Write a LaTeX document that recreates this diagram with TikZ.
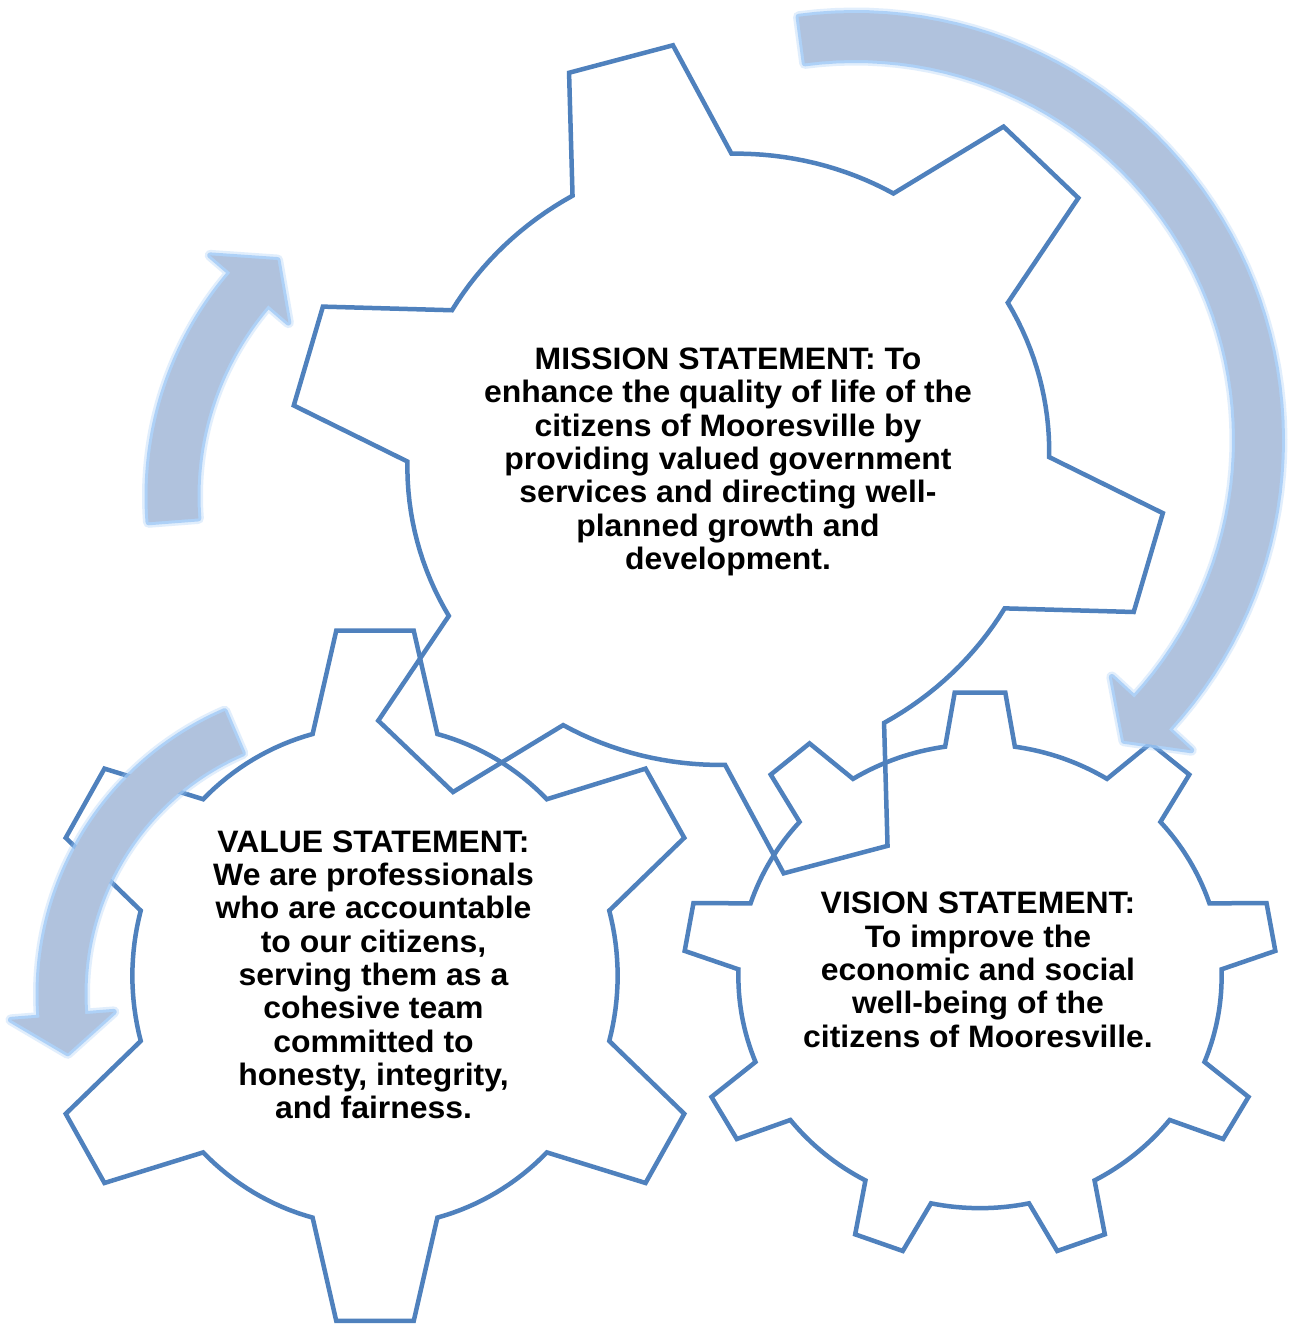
\documentclass[tikz,border=0pt]{standalone}
\usepackage{fontspec}
\setmainfont{Liberation Sans}[FakeStretch=1.03]
\definecolor{gearblue}{RGB}{79,129,189}
\definecolor{arrowfill}{RGB}{176,194,221}
\definecolor{arrowglow}{RGB}{158,200,246}

% gear frame: centre (\gcx,\gcy) and the images of the unit vectors at 0 and 90 degrees
\newcommand\gearframe[6]{\def\gcx{#1}\def\gcy{#2}\def\gax{#3}\def\gay{#4}\def\gbx{#5}\def\gby{#6}}

% #1 teeth, #2 root radius, #3 root half angle, #4 tip half angle, #5 angle of first tooth
\newcommand\drawgear[5]{%
  \pgfmathsetmacro\gstep{360/#1}%
  \pgfmathsetmacro\garc{\gstep-2*#3}%
  \draw[gearline] ({gx(#2,#5-#3)},{gy(#2,#5-#3)})
    \foreach \k in {1,...,#1}{
      -- ({gx(1,#5+(\k-1)*\gstep-#4)},{gy(1,#5+(\k-1)*\gstep-#4)})
      -- ({gx(1,#5+(\k-1)*\gstep+#4)},{gy(1,#5+(\k-1)*\gstep+#4)})
      \foreach \j in {0,...,16}{
        -- ({gx(#2,#5+(\k-1)*\gstep+#3+\j*\garc/16)},{gy(#2,#5+(\k-1)*\gstep+#3+\j*\garc/16)})
      }
    } -- cycle;
}

% circular arrow: #1,#2 centre, #3 mid radius, #4 half width, #5 half head span,
% #6 tail angle, #7 head base angle, #8 tip angle
\newcommand\ringarrow[8]{%
  \path[ringarrowstyle]
    plot[domain=#6:#7,samples=60,variable=\t]({#1+(#3+#4)*cos(\t)},{#2-(#3+#4)*sin(\t)})
    -- ({#1+(#3+#5)*cos(#7)},{#2-(#3+#5)*sin(#7)})
    -- ({#1+#3*cos(#8)},{#2-#3*sin(#8)})
    -- ({#1+(#3-#5)*cos(#7)},{#2-(#3-#5)*sin(#7)})
    -- plot[domain=#7:#6,samples=60,variable=\t]({#1+(#3-#4)*cos(\t)},{#2-(#3-#4)*sin(\t)})
    -- cycle;
}

\begin{document}
\begin{tikzpicture}[x=1pt,y=-1pt,
  declare function={
    gx(\gR,\gT)=\gcx+\gR*(\gax*cos(\gT)+\gbx*sin(\gT));
    gy(\gR,\gT)=\gcy+\gR*(\gay*cos(\gT)+\gby*sin(\gT));
  },
  gearline/.style={draw=gearblue,line width=4.5pt,line join=miter},
  ringarrowstyle/.style={fill=arrowfill,
    preaction={draw=arrowglow,draw opacity=0.3,line width=11pt,line join=round},
    preaction={draw=arrowglow,draw opacity=0.75,line width=6pt,line join=round}},
  statement/.style={align=center,inner sep=0pt,anchor=north,text=black,
    font=\fontsize{31}{33.3}\selectfont\bfseries}]

\useasboundingbox[fill=white] (0,0) rectangle (1289,1325);

% mission gear (six teeth, slightly skewed)
\gearframe{728.3}{459.3}{315}{-299.25}{-306.7}{-292.9}
\drawgear{6}{0.73}{14.8}{7}{0}

% value gear
\gearframe{375}{975.8}{337}{0}{0}{-347.5}
\drawgear{6}{0.72}{14.9}{6.6}{90}

% vision gear
\gearframe{980}{976.2}{296.5}{0}{0}{-284.6}
\drawgear{9}{0.815}{8.3}{4.9}{90}

% circular arrows
\ringarrow{855}{440}{403.5}{23.5}{54}{97.6}{-42.7}{-48.2}
\ringarrow{490}{496}{317.5}{25}{51.5}{184.4}{139.3}{132}
\ringarrow{346.5}{994}{285}{23}{51.5}{113.3}{184.4}{192}

% statements
\node[statement] (mission) at (728,347.8) {MISSION STATEMENT: To\\enhance the quality of life of the\\citizens of Mooresville by\\providing valued government\\services and directing well-\\planned growth and\\development.};
\node[statement] (value) at (373.5,830.5) {VALUE STATEMENT:\\We are professionals\\who are accountable\\to our citizens,\\serving them as a\\cohesive team\\committed to\\honesty, integrity,\\and fairness.};
\node[statement] (vision) at (978,892.1) {VISION STATEMENT:\\To improve the\\economic and social\\well-being of the\\citizens of Mooresville.};
\end{tikzpicture}
\end{document}
